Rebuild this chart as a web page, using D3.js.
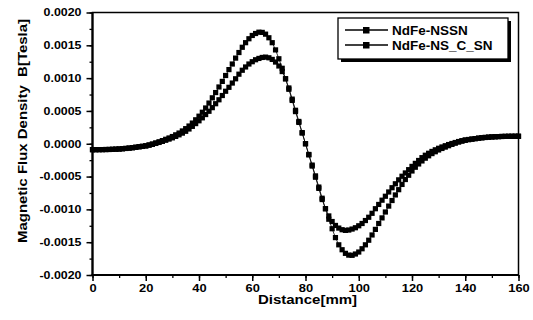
<!DOCTYPE html>
<html><head><meta charset="utf-8">
<script src="https://cdn.jsdelivr.net/npm/d3@7"></script>
<style>body{margin:0;background:#fff}svg{display:block}text{font-family:"Liberation Sans",Arial,sans-serif;font-weight:bold;fill:#000;white-space:pre}</style>
</head><body><svg id="c" width="533" height="320"></svg>
<script>
const distance = [0,1.25,2.5,3.75,5,6.25,7.5,8.75,10,11.25,12.5,13.75,15,16.25,17.5,18.75,20,21.25,22.5,23.75,25,26.25,27.5,28.75,30,31.25,32.5,33.75,35,36.25,37.5,38.75,40,41.25,42.5,43.75,45,46.25,47.5,48.75,50,51.25,52.5,53.75,55,56.25,57.5,58.75,60,61.25,62.5,63.75,65,66.25,67.5,68.75,70,71.25,72.5,73.75,75,76.25,77.5,78.75,80,81.25,82.5,83.75,85,86.25,87.5,88.75,90,91.25,92.5,93.75,95,96.25,97.5,98.75,100,101.25,102.5,103.75,105,106.25,107.5,108.75,110,111.25,112.5,113.75,115,116.25,117.5,118.75,120,121.25,122.5,123.75,125,126.25,127.5,128.75,130,131.25,132.5,133.75,135,136.25,137.5,138.75,140,141.25,142.5,143.75,145,146.25,147.5,148.75,150,151.25,152.5,153.75,155,156.25,157.5,158.75,160];
const seriesNames = ["NdFe-NSSN","NdFe-NS_C_SN"];
const nssn = [-0.000090,-0.000090,-0.0000895,-0.000089,-0.000088,-0.000087,-0.000085,-0.000083,-0.000080,-0.000076,-0.000071,-0.000066,-0.000060,-0.000053,-0.000045,-0.000038,-0.000030,-0.000017,-0.000003,0.000013,0.000030,0.000048,0.000068,0.000088,0.000110,0.000136,0.000163,0.000195,0.000230,0.000270,0.000315,0.000365,0.000420,0.000480,0.000545,0.000620,0.000700,0.000780,0.000865,0.000950,0.001040,0.001130,0.001215,0.001305,0.001390,0.001470,0.001540,0.001600,0.001650,0.001680,0.001700,0.001697,0.001670,0.001615,0.001540,0.001430,0.001295,0.001150,0.000990,0.000830,0.000660,0.000490,0.000325,0.000163,0.000000,-0.000163,-0.000325,-0.000490,-0.000660,-0.000830,-0.000990,-0.001150,-0.001295,-0.001430,-0.001540,-0.001615,-0.001670,-0.001697,-0.001700,-0.001680,-0.001650,-0.001600,-0.001540,-0.001470,-0.001390,-0.001305,-0.001215,-0.001130,-0.001040,-0.000950,-0.000865,-0.000780,-0.000700,-0.000620,-0.000545,-0.000480,-0.000415,-0.000358,-0.000308,-0.000262,-0.000220,-0.000184,-0.000150,-0.000122,-0.000095,-0.000072,-0.000051,-0.000030,-0.000010,0.000008,0.000025,0.000039,0.000052,0.000062,0.000070,0.000078,0.000085,0.000091,0.000096,0.000100,0.000104,0.000107,0.000109,0.000111,0.000112,0.000113,0.0001135,0.000114,0.000114];
const nsCsn = [-0.000090,-0.000090,-0.0000895,-0.000089,-0.000088,-0.000087,-0.000085,-0.000083,-0.000080,-0.000076,-0.000072,-0.000067,-0.000061,-0.000054,-0.000047,-0.000041,-0.000035,-0.000023,-0.000010,0.000005,0.000020,0.000036,0.000053,0.000071,0.000090,0.000112,0.000136,0.000162,0.000190,0.000225,0.000265,0.000307,0.000350,0.000395,0.000445,0.000495,0.000550,0.000610,0.000670,0.000735,0.000800,0.000860,0.000925,0.000990,0.001060,0.001120,0.001170,0.001215,0.001250,0.001280,0.001300,0.001315,0.001320,0.001310,0.001285,0.001245,0.001185,0.001100,0.000990,0.000850,0.000680,0.000510,0.000340,0.000170,0.000000,-0.000170,-0.000340,-0.000510,-0.000680,-0.000850,-0.000990,-0.001100,-0.001185,-0.001245,-0.001285,-0.001310,-0.001320,-0.001315,-0.001300,-0.001280,-0.001250,-0.001215,-0.001170,-0.001120,-0.001060,-0.000990,-0.000925,-0.000860,-0.000800,-0.000735,-0.000670,-0.000610,-0.000550,-0.000495,-0.000445,-0.000395,-0.000345,-0.000299,-0.000255,-0.000212,-0.000175,-0.000145,-0.000117,-0.000092,-0.000069,-0.000049,-0.000030,-0.000012,0.000004,0.000019,0.000034,0.000047,0.000059,0.000065,0.000071,0.000078,0.000085,0.000091,0.000096,0.000100,0.000104,0.000107,0.000109,0.000111,0.000112,0.000113,0.0001135,0.000114,0.000114];
const xTicks = [0,20,40,60,80,100,120,140,160];
const yTicks = [-0.0020,-0.0015,-0.0010,-0.0005,0.0000,0.0005,0.0010,0.0015,0.0020];
const xTitle = "Distance[mm]";
const yTitle = "Magnetic Flux Density  B[Tesla]";

const svg = d3.select("#c");
const L = 92.5, R = 518.5, T = 12.5, B = 275;
const x = d3.scaleLinear().domain([0,160]).range([L,R]);
const y = d3.scaleLinear().domain([-0.002,0.002]).range([B,T]);
const fmt = v => d3.format(".4f")(v).replace("\u2212","-");

function stretch(sel, f){ sel.each(function(){ const w=this.getComputedTextLength(); d3.select(this).attr("textLength", w*f).attr("lengthAdjust","spacingAndGlyphs"); }); }

// minor ticks
svg.append("g").attr("transform",`translate(${L},0)`)
  .call(d3.axisLeft(y).tickValues(d3.range(-8,9).map(i=>i*0.00025)).tickSize(3).tickFormat(""))
  .call(g=>g.select(".domain").remove()).selectAll("line").attr("stroke-width",1.3);
svg.append("g").attr("transform",`translate(0,${B})`)
  .call(d3.axisBottom(x).tickValues(d3.range(0,161,10)).tickSize(3).tickFormat(""))
  .call(g=>g.select(".domain").remove()).selectAll("line").attr("stroke-width",1.3);
// major
const ya = svg.append("g").attr("transform",`translate(${L},0)`)
  .call(d3.axisLeft(y).tickValues(yTicks).tickSize(6).tickPadding(5).tickFormat(fmt));
ya.select(".domain").remove();
ya.selectAll("line").attr("stroke-width",1.5);
ya.selectAll("text").attr("font-size",10.5).attr("font-weight","bold").attr("font-family",'"Liberation Sans",Arial,sans-serif').call(stretch,1.18);
const xa = svg.append("g").attr("transform",`translate(0,${B})`)
  .call(d3.axisBottom(x).tickValues(xTicks).tickSize(6).tickPadding(3).tickFormat(d3.format("d")));
xa.select(".domain").remove();
xa.selectAll("line").attr("stroke-width",1.5);
xa.selectAll("text").attr("font-size",11.5).attr("font-weight","bold").attr("font-family",'"Liberation Sans",Arial,sans-serif').call(stretch,1.12);

// frame
svg.append("rect").attr("x",L).attr("y",T).attr("width",R-L).attr("height",B-T).attr("fill","none").attr("stroke","#000").attr("stroke-width",1.5);
svg.append("line").attr("x1",L).attr("x2",L).attr("y1",T).attr("y2",B+1).attr("stroke","#000").attr("stroke-width",2.2);
svg.append("line").attr("x1",L-1).attr("x2",R).attr("y1",B).attr("y2",B).attr("stroke","#000").attr("stroke-width",2.2);

// series
const line = d3.line().x((d,i)=>x(distance[i])).y(d=>y(d));
[nssn, nsCsn].forEach(s=>{
  svg.append("path").datum(s).attr("d",line).attr("fill","none").attr("stroke","#000").attr("stroke-width",0.8);
  svg.append("g").selectAll("rect").data(s).join("rect")
    .attr("x",(d,i)=>x(distance[i])-2.6).attr("y",d=>y(d)-2.6).attr("width",5.2).attr("height",5.2).attr("fill","#000");
});

// titles
const xt = svg.append("text").attr("x",(L+R)/2+2).attr("y",304).attr("text-anchor","middle").attr("font-size",12.5).text(xTitle);
stretch(xt,1.2);
const yt = svg.append("text").attr("transform","translate(27,131) rotate(-90)").attr("text-anchor","middle").attr("font-size",12.5).attr("xml:space","preserve").text(yTitle);
yt.attr("textLength",224).attr("lengthAdjust","spacingAndGlyphs");

// legend
const lg = svg.append("g");
lg.append("rect").attr("x",341).attr("y",21).attr("width",170).attr("height",41).attr("fill","#000");
lg.append("rect").attr("x",338).attr("y",18).attr("width",170).attr("height",41).attr("fill","#fff").attr("stroke","#000").attr("stroke-width",1.3);
seriesNames.forEach((n,i)=>{
  const cy = 30 + i*15;
  lg.append("line").attr("x1",345).attr("x2",388).attr("y1",cy).attr("y2",cy).attr("stroke","#000").attr("stroke-width",1.5);
  lg.append("rect").attr("x",363).attr("y",cy-3).attr("width",6.5).attr("height",6.5).attr("fill","#000");
  lg.append("text").attr("x",392).attr("y",cy+5).attr("font-size",13.5).text(n);
});
</script></body></html>
